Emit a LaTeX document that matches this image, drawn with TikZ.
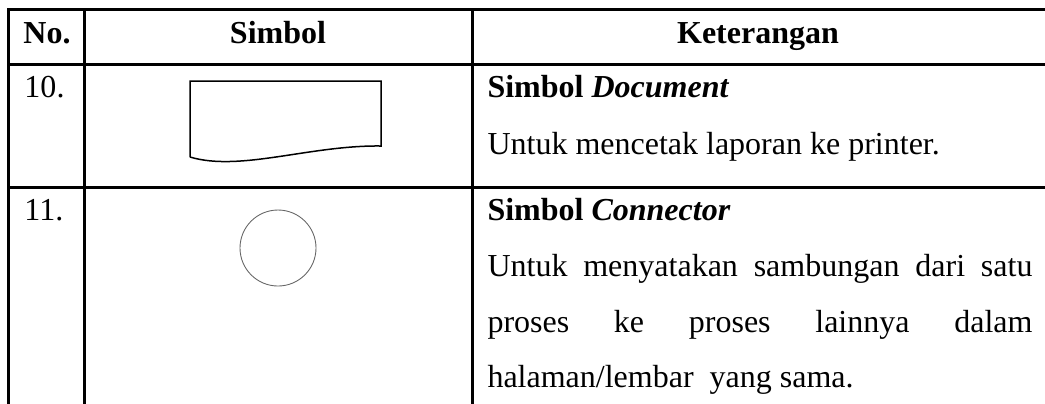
\documentclass[tikz,border=0pt]{standalone}
\usepackage{fontspec}
\setmainfont{Liberation Serif}
\begin{document}
\begin{tikzpicture}[x=0.4pt,y=-0.4pt,
  grid/.style={line width=1.2pt, line cap=rect},
  txt/.style={anchor=base west, inner sep=0pt, font=\fontsize{12.8}{15}\selectfont},
  hdr/.style={anchor=base, inner sep=0pt, font=\fontsize{12.8}{15}\selectfont\bfseries},
  docshape/.style={line width=0.6pt},
  conn/.style={line width=0.35pt, draw=black!60}]
\useasboundingbox (0,0) rectangle (1045,403);
% grid
\draw[grid] (8.5,9) -- (1044,9);
\draw[grid] (8.5,64) -- (1044,64);
\draw[grid] (8.5,187) -- (1044,187);
\draw[grid] (8.5,9) -- (8.5,410);
\draw[grid] (84.5,9) -- (84.5,410);
\draw[grid] (472,9) -- (472,410);
% header
\node[hdr] (h1) at (47,43) {No.};
\node[hdr] (h2) at (278,43) {Simbol};
\node[hdr] (h3) at (758,43) {Keterangan};
% row 10
\node[txt] (n10) at (24,97) {10.};
\node[txt] (t10a) at (487,97) {\textbf{Simbol \textit{Document}}};
\node[txt] (t10b) at (487,154) {Untuk mencetak laporan ke printer.};
\draw[docshape] (190,157) -- (190,81) -- (381,81) -- (381,146)
  .. controls (310,145) and (240,172) .. (190,157);
% row 11
\node[txt] (n11) at (24,220) {11.};
\node[txt] (t11a) at (487,220) {\textbf{Simbol \textit{Connector}}};
\node[txt] (t11b) at (487,276) {\makebox[218pt][s]{Untuk menyatakan sambungan dari satu}};
\node[txt] (t11c) at (487,332) {\makebox[218pt][s]{proses ke proses lainnya dalam}};
\node[txt] (t11d) at (487,387) {halaman/lembar\ \ yang sama.};
\node[conn, circle, minimum size=30.4pt, inner sep=0pt] (c) at (278,248) {};
\end{tikzpicture}
\end{document}
